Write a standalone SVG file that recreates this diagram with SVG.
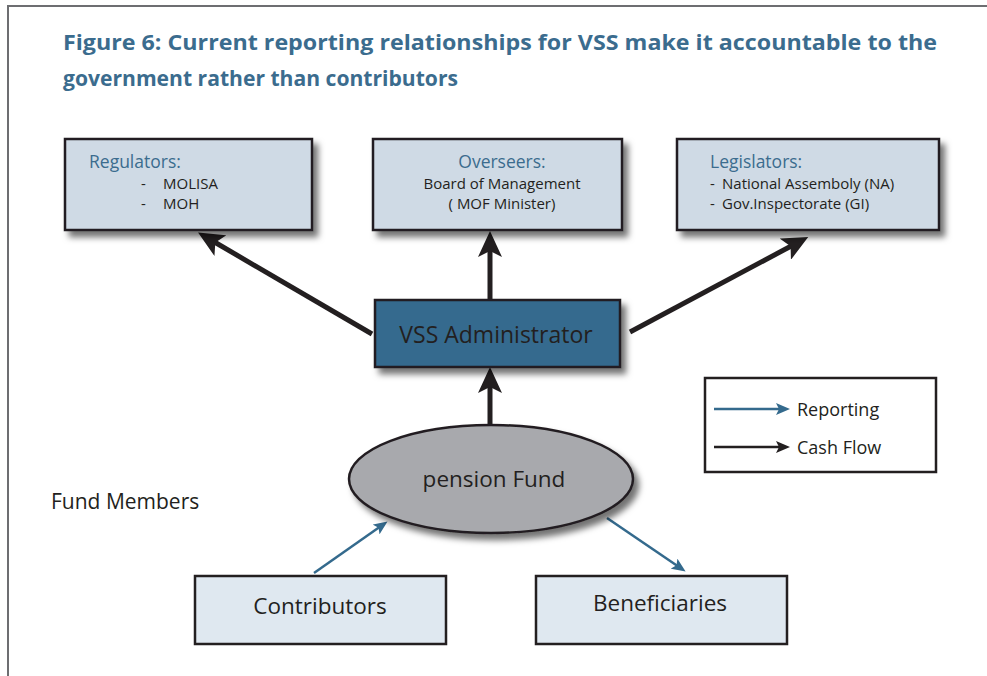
<svg xmlns="http://www.w3.org/2000/svg" width="987" height="676" viewBox="0 0 987 676">
<style>
.title{font-family:"Open Sans","Liberation Sans",sans-serif;font-weight:bold;font-size:21px;fill:#3b6c8e}
.t{font-family:"Open Sans","Liberation Sans",sans-serif;fill:#231f20}
.head{font-family:"Open Sans","Liberation Sans",sans-serif;fill:#3b6c8e;font-size:17.5px}
.box{stroke:#231f20;stroke-width:2.5}
.cash{stroke:#231f20;stroke-width:5;fill:none}
.rep{stroke:#346a8d;stroke-width:2.5;fill:none}
</style>
<defs>
<filter id="sh" x="-10%" y="-10%" width="125%" height="135%">
<feDropShadow dx="5" dy="6" stdDeviation="3" flood-color="#000" flood-opacity="0.55"/>
</filter>
<marker id="bk" viewBox="0 0 26 24" refX="11" refY="12" markerWidth="26" markerHeight="24" markerUnits="userSpaceOnUse" orient="auto">
<path d="M0,0 L26,12 L0,24 L6,12 z" fill="#231f20"/>
</marker>
<marker id="bl" viewBox="0 0 14 12" refX="6" refY="6" markerWidth="14" markerHeight="12" markerUnits="userSpaceOnUse" orient="auto">
<path d="M0,0 L14,6 L0,12 L3,6 z" fill="#346a8d"/>
</marker>
<marker id="bks" viewBox="0 0 14 12" refX="6" refY="6" markerWidth="14" markerHeight="12" markerUnits="userSpaceOnUse" orient="auto">
<path d="M0,0 L14,6 L0,12 L3,6 z" fill="#231f20"/>
</marker>
</defs>
<rect width="987" height="676" fill="#fff"/>
<path d="M8,676 L8,6 L987,6" fill="none" stroke="#6d6e71" stroke-width="2"/>
<text class="title" x="63" y="50" textLength="874" lengthAdjust="spacingAndGlyphs">Figure 6: Current reporting relationships for VSS make it accountable to the</text>
<text class="title" x="63" y="86" textLength="395" lengthAdjust="spacingAndGlyphs">government rather than contributors</text>

<g id="connectors">
<line class="cash" x1="372" y1="334" x2="211" y2="240" marker-end="url(#bk)"/>
<line class="cash" x1="490" y1="300" x2="490" y2="246" marker-end="url(#bk)"/>
<line class="cash" x1="630" y1="332" x2="795" y2="244" marker-end="url(#bk)"/>
<line class="cash" x1="490" y1="426" x2="490" y2="382" marker-end="url(#bk)"/>
<line class="rep" x1="314" y1="573" x2="381" y2="526" marker-end="url(#bl)"/>
<line class="rep" x1="607" y1="518" x2="679" y2="567" marker-end="url(#bl)"/>
</g>

<g id="regulators">
<rect class="box" x="65" y="139" width="247" height="91" fill="#cfdae5" filter="url(#sh)"/>
<text class="head" x="89" y="168">Regulators:</text>
<text class="t" font-size="15" x="141" y="189">-</text>
<text class="t" font-size="15" x="163" y="189">MOLISA</text>
<text class="t" font-size="15" x="141" y="209">-</text>
<text class="t" font-size="15" x="163" y="209">MOH</text>
</g>

<g id="overseers">
<rect class="box" x="373" y="139" width="249" height="91" fill="#cfdae5" filter="url(#sh)"/>
<text class="head" x="502" y="168" text-anchor="middle">Overseers:</text>
<text class="t" font-size="15" x="502" y="189" text-anchor="middle">Board of Management</text>
<text class="t" font-size="15" x="502" y="209" text-anchor="middle">( MOF Minister)</text>
</g>

<g id="legislators">
<rect class="box" x="677" y="139" width="262" height="91" fill="#cfdae5" filter="url(#sh)"/>
<text class="head" x="710" y="168">Legislators:</text>
<text class="t" font-size="15" x="710" y="189">-</text>
<text class="t" font-size="15" x="722" y="189">National Assemboly (NA)</text>
<text class="t" font-size="15" x="710" y="209">-</text>
<text class="t" font-size="15" x="722" y="209">Gov.Inspectorate (GI)</text>
</g>

<g id="vss">
<rect class="box" x="375" y="300" width="245" height="67" fill="#356b8e" filter="url(#sh)"/>
<text class="t" font-size="23" x="496" y="343" text-anchor="middle">VSS Administrator</text>
</g>

<g id="fund">
<ellipse class="box" cx="491" cy="479" rx="142" ry="54" fill="#a8a9ad" filter="url(#sh)"/>
<text class="t" font-size="22.5" x="494" y="487" text-anchor="middle">pension Fund</text>
</g>

<g id="members">
<text class="t" font-size="21" x="51" y="509">Fund Members</text>
</g>

<g id="contributors">
<rect class="box" x="195" y="576" width="251" height="68" fill="#dfe8f0"/>
<text class="t" font-size="22.5" x="320" y="614" text-anchor="middle">Contributors</text>
</g>

<g id="beneficiaries">
<rect class="box" x="536" y="576" width="251" height="68" fill="#dfe8f0"/>
<text class="t" font-size="22.5" x="660" y="611" text-anchor="middle">Beneficiaries</text>
</g>

<g id="legend">
<rect x="705" y="378" width="231" height="94" fill="#fff" stroke="#231f20" stroke-width="2.5"/>
<line class="rep" x1="714" y1="409" x2="782" y2="409" marker-end="url(#bl)"/>
<text class="t" font-size="18" x="797" y="416">Reporting</text>
<line x1="714" y1="447" x2="782" y2="447" stroke="#231f20" stroke-width="2.5" marker-end="url(#bks)"/>
<text class="t" font-size="18" x="797" y="454">Cash Flow</text>
</g>
</svg>
